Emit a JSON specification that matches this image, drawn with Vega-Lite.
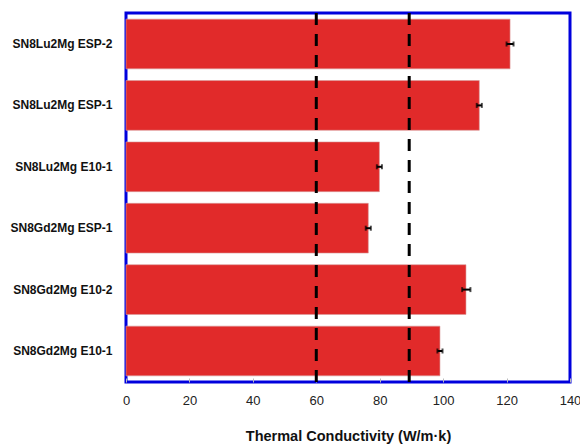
{
  "$schema": "https://vega.github.io/schema/vega-lite/v6.json",
  "autosize": "none",
  "width": 444,
  "height": 369,
  "padding": {"left": 126, "top": 13, "right": 10, "bottom": 62},
  "background": "white",
  "config": {
    "font": "Liberation Sans",
    "view": {"stroke": "#0000dd", "strokeWidth": 3}
  },
  "datasets": {
    "bars": [
      {"sample": "SN8Lu2Mg ESP-2", "value": 121.1, "lo": 120.0, "hi": 122.2},
      {"sample": "SN8Lu2Mg ESP-1", "value": 111.4, "lo": 110.6, "hi": 112.2},
      {"sample": "SN8Lu2Mg E10-1", "value": 79.9, "lo": 79.1, "hi": 80.7},
      {"sample": "SN8Gd2Mg ESP-1", "value": 76.4, "lo": 75.6, "hi": 77.2},
      {"sample": "SN8Gd2Mg E10-2", "value": 107.2, "lo": 106.0, "hi": 108.6},
      {"sample": "SN8Gd2Mg E10-1", "value": 99.0, "lo": 98.2, "hi": 99.8}
    ],
    "refs": [{"ref": 60}, {"ref": 89.3}]
  },
  "layer": [
    {
      "data": {"name": "bars"},
      "mark": {"type": "bar", "color": "#e12a2a", "stroke": "#d99a9a", "strokeWidth": 0.6},
      "encoding": {
        "y": {
          "field": "sample", "type": "nominal", "sort": null,
          "scale": {"paddingInner": 0.19, "paddingOuter": 0.1},
          "axis": {
            "title": null, "domain": false, "ticks": false,
            "labelFont": "Liberation Sans", "labelFontWeight": "bold",
            "labelFontSize": 12, "labelColor": "#111", "labelPadding": 14
          }
        },
        "x": {
          "field": "value", "type": "quantitative",
          "scale": {"domain": [0, 140], "nice": false},
          "axis": {
            "title": "Thermal Conductivity (W/m·k)",
            "values": [0, 20, 40, 60, 80, 100, 120, 140],
            "grid": false, "domain": false, "labelFlush": false,
            "tickSize": -4, "tickColor": "#bbbbbb",
            "labelFontSize": 13, "labelColor": "#222", "labelPadding": 16,
            "titleFontSize": 14.5, "titleFontWeight": "bold", "titleColor": "#111",
            "titlePadding": 22
          }
        }
      }
    },
    {
      "data": {"name": "bars"},
      "mark": {"type": "rule", "color": "black", "strokeWidth": 2},
      "encoding": {
        "y": {"field": "sample", "type": "nominal", "sort": null},
        "x": {"field": "lo", "type": "quantitative"},
        "x2": {"field": "hi"}
      }
    },
    {
      "data": {"name": "bars"},
      "mark": {"type": "tick", "color": "black", "thickness": 2, "size": 5},
      "encoding": {
        "y": {"field": "sample", "type": "nominal", "sort": null},
        "x": {"field": "lo", "type": "quantitative"}
      }
    },
    {
      "data": {"name": "bars"},
      "mark": {"type": "tick", "color": "black", "thickness": 2, "size": 5},
      "encoding": {
        "y": {"field": "sample", "type": "nominal", "sort": null},
        "x": {"field": "hi", "type": "quantitative"}
      }
    },
    {
      "data": {"name": "refs"},
      "mark": {"type": "rule", "color": "black", "strokeWidth": 3, "strokeDash": [12, 9]},
      "encoding": {
        "x": {"field": "ref", "type": "quantitative"}
      }
    }
  ]
}
